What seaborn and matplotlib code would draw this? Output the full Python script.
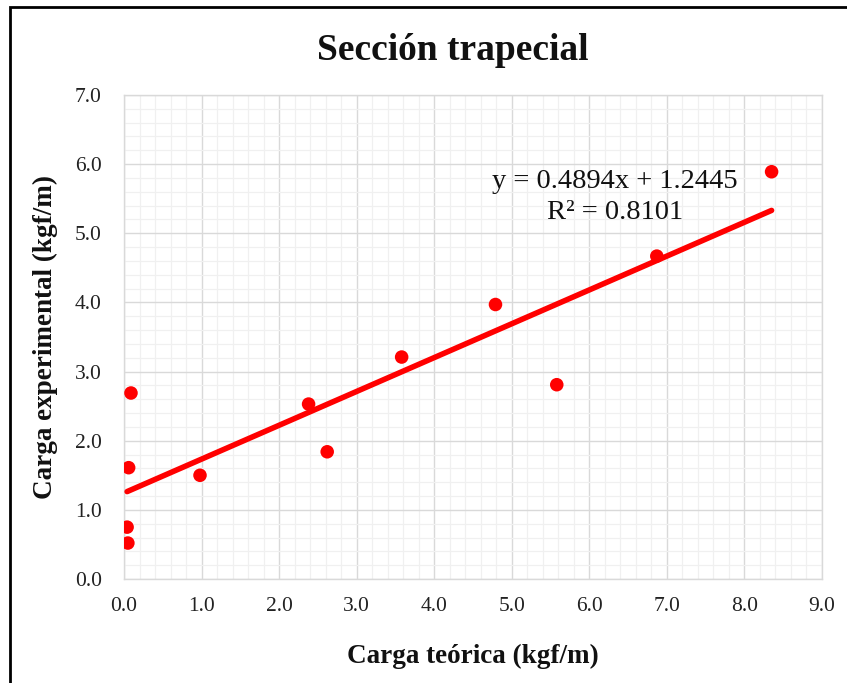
import numpy as np
import pandas as pd
import matplotlib
matplotlib.use("Agg")
import matplotlib.pyplot as plt
from matplotlib.patches import Rectangle
from matplotlib.ticker import MultipleLocator, FormatStrFormatter
import seaborn as sns

# Data
carga_teorica = [0.04, 0.05, 0.06, 0.09, 0.98, 2.38, 2.62, 3.58, 4.79, 5.58, 6.87, 8.35]
carga_experimental = [0.75, 0.52, 1.61, 2.69, 1.50, 2.53, 1.84, 3.21, 3.97, 2.81, 4.67, 5.89]
slope = 0.4894
intercept = 1.2445
r2 = 0.8101

title = "Sección trapecial"
xlabel = "Carga teórica (kgf/m)"
ylabel = "Carga experimental (kgf/m)"

df = pd.DataFrame({"x": carga_teorica, "y": carga_experimental})

sns.set_theme(style="whitegrid")
plt.rcParams["font.family"] = ["Liberation Serif", "DejaVu Serif"]

fig = plt.figure(figsize=(8.47, 6.83), dpi=100)
ax = fig.add_axes([124 / 847, 1 - 579 / 683, (822 - 124) / 847, (579 - 95) / 683])

sns.scatterplot(data=df, x="x", y="y", ax=ax, color="#ff0000", s=95,
                edgecolor="none", zorder=4, legend=False)

xl = np.array([min(carga_teorica), max(carga_teorica)])
ax.plot(xl, slope * xl + intercept, color="#ff0000", lw=4.0,
        solid_capstyle="round", zorder=3)

ax.set_xlim(0, 9)
ax.set_ylim(0, 7)
ax.xaxis.set_major_locator(MultipleLocator(1))
ax.yaxis.set_major_locator(MultipleLocator(1))
ax.xaxis.set_minor_locator(MultipleLocator(0.2))
ax.yaxis.set_minor_locator(MultipleLocator(0.2))
ax.xaxis.set_major_formatter(FormatStrFormatter("%.1f"))
ax.yaxis.set_major_formatter(FormatStrFormatter("%.1f"))
ax.grid(which="major", color="#d9d9d9", lw=1.0)
ax.grid(which="minor", color="#f0f0f0", lw=0.9)
ax.set_axisbelow(True)
ax.tick_params(which="both", length=0, labelsize=15.5, colors="#222222")
ax.tick_params(axis="x", pad=13)
ax.tick_params(axis="y", pad=16)
for sp in ax.spines.values():
    sp.set_color("#d9d9d9")
    sp.set_linewidth(1.0)

ax.set_xlabel(xlabel, fontsize=19.5, fontweight="bold", labelpad=20, color="#111111")
ax.set_ylabel(ylabel, fontsize=19.5, fontweight="bold", labelpad=12, color="#111111")
fig.text(453 / 847, 1 - 50 / 683, title, fontsize=27, fontweight="bold",
         ha="center", va="center", color="#111111")

ax.text(6.33, 5.52, f"y = {slope:.4f}x + {intercept:.4f}\nR² = {r2:.4f}",
        fontsize=20.5, ha="center", va="center", color="#111111", linespacing=1.3)

fig.patches.append(Rectangle((10 / 847, -0.05), 1.2, 1 - 7 / 683 + 0.05,
                             transform=fig.transFigure, fill=False,
                             edgecolor="black", lw=2, zorder=10))

fig.savefig("out.png", dpi=100)
